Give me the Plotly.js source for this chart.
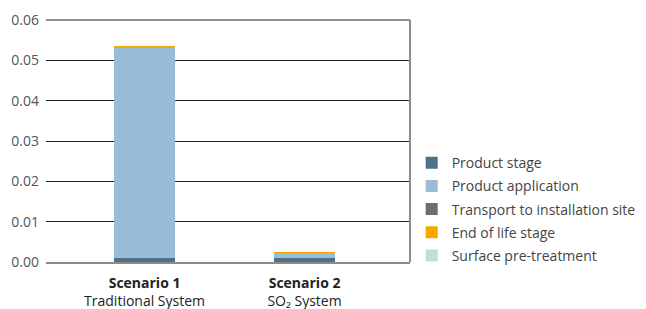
<!DOCTYPE html>
<html>
<head>
<meta charset="utf-8">
<script src="https://cdn.plot.ly/plotly-3.0.1.min.js"></script>
<style>html,body{margin:0;padding:0;background:#fff;}#chart{width:646px;height:309px;}</style>
</head>
<body>
<div id="chart"></div>
<script>
const categories = ['<b>Scenario 1</b><br>Traditional System', '<b>Scenario 2</b><br>SO₂ System'];
const seriesNames = ['Product stage', 'Product application', 'Transport to installation site', 'End of life stage', 'Surface pre-treatment'];
const productStage = [0.0009, 0.0009];
const productApplication = [0.0522, 0.0013];
const transport = [0.00002, 0.00002];
const endOfLife = [0.0004, 0.0002];
const surfacePretreatment = [0.0, 0.0];
const yTickVals = [0, 0.01, 0.02, 0.03, 0.04, 0.05, 0.06];
const yTickText = ['0.00', '0.01', '0.02', '0.03', '0.04', '0.05', '0.06'];

const colors = ['#4f7189', '#9bbcd9', '#6e6e6e', '#f5a800', '#c5ddd6'];
const values = [productStage, productApplication, transport, endOfLife, surfacePretreatment];

const traces = values.map((v, i) => ({
  type: 'bar',
  name: seriesNames[i],
  x: categories,
  y: v,
  width: 0.38,
  marker: {color: colors[i], line: {width: 0}},
  legendgroup: 'g' + i,
  hoverinfo: 'name+y'
}));

const layout = {
  width: 646, height: 309,
  margin: {l: 46, r: 236, t: 20, b: 46.6, pad: 0, autoexpand: false},
  barmode: 'stack',
  paper_bgcolor: '#fff', plot_bgcolor: '#fff',
  font: {family: 'Open Sans, sans-serif', size: 13, color: '#333'},
  showlegend: true,
  legend: {
    xref: 'container', yref: 'container',
    x: 0.6373, xanchor: 'left', y: 0.3233, yanchor: 'middle',
    traceorder: 'grouped', tracegroupgap: 2,
    font: {size: 14, color: '#444'},
    itemwidth: 30, bgcolor: 'rgba(0,0,0,0)'
  },
  xaxis: {
    type: 'category',
    range: [-0.616, 1.659],
    showgrid: false, zeroline: false,
    showline: true, linecolor: '#8c8c8c', linewidth: 2,
    ticks: '', tickfont: {size: 14, color: '#222'},
    ticklabelstandoff: 7
  },
  yaxis: {
    range: [0, 0.06],
    tickvals: yTickVals, ticktext: yTickText,
    showgrid: true, gridcolor: '#222', gridwidth: 1,
    zeroline: false, showline: false,
    ticks: '', tickfont: {size: 14, color: '#555'},
    ticklabelstandoff: 6
  },
  shapes: [
    {type: 'line', xref: 'paper', yref: 'paper', x0: 0, x1: 1, y0: 1, y1: 1,
     line: {color: '#222', width: 1}},
    {type: 'line', xref: 'paper', yref: 'paper', x0: 1, x1: 1, y0: 0, y1: 1,
     line: {color: '#8c8c8c', width: 2}}
  ]
};

Plotly.newPlot('chart', traces, layout, {displayModeBar: false, staticPlot: true});
</script>
</body>
</html>
